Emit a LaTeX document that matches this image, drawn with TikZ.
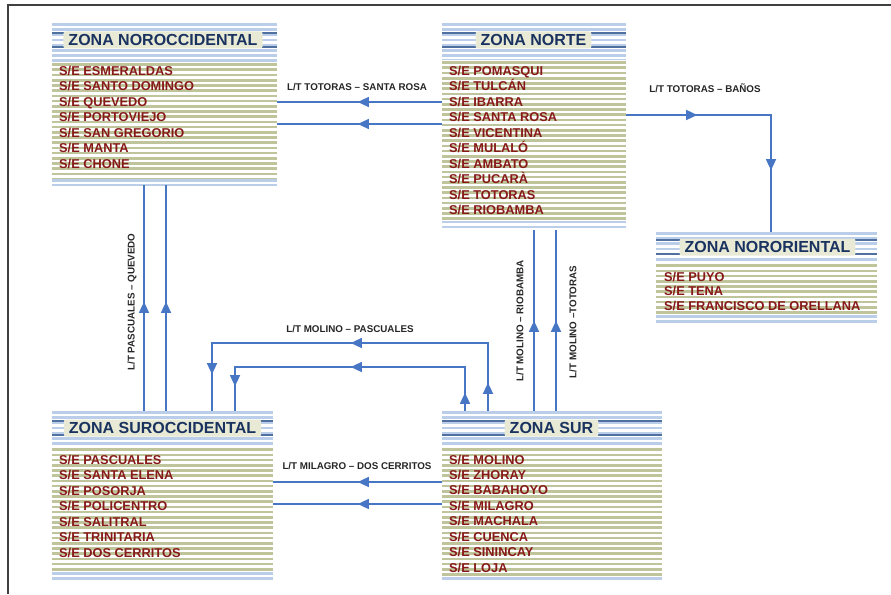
\documentclass[tikz,border=0pt]{standalone}
\usepackage{fontspec}
\setmainfont{Liberation Sans}
\usetikzlibrary{arrows.meta,decorations.markings}
\definecolor{linkblue}{RGB}{70,118,196}
\definecolor{stred}{RGB}{135,25,25}
\definecolor{navy}{RGB}{25,50,95}
\definecolor{khaki}{RGB}{192,196,154}
\definecolor{paleblue}{RGB}{186,205,233}
\definecolor{titlebg}{RGB}{232,234,214}
\definecolor{tlinecol}{RGB}{80,112,160}
\tikzset{
 zonebox/.style={rectangle, draw=none, inner sep=0pt},
 ztitle/.style={fill=titlebg, rounded corners=2pt, text=navy, font=\fontsize{16}{18}\selectfont\bfseries, inner xsep=5pt, inner ysep=0pt, minimum height=17pt},
 station/.style={anchor=base west, inner sep=0pt, text=stred, font=\fontsize{12.8}{15}\selectfont\bfseries},
 conn/.style={draw=linkblue, line width=1.3pt},
 ctip/.tip={Triangle[length=11pt,width=10pt]},
 tipat/.style={postaction={decorate,decoration={markings,mark=at position #1 with {\arrow[linkblue]{ctip}}}}},
 lbl/.style={font=\fontsize{9.8}{11}\selectfont\bfseries, text=black!85, inner sep=1pt},
 tline/.style={draw=tlinecol, line width=1.4pt},
 framestyle/.style={draw=black!75, line width=1.2pt},
}
\newcommand\zonebg[6]{%
 \fill[white] (#1,#2) rectangle (#3,#4);
 \begin{scope}
  \clip (#1,#2) rectangle (#3,#4);
  \foreach \k in {0,...,40} \fill[paleblue] (#1,{#2+\k*5.2}) rectangle (#3,{#2+\k*5.2+2.6});
 \end{scope}
 \fill[white] (#1,#5) rectangle (#3,#6);
 \begin{scope}
  \clip (#1,#5) rectangle (#3,#6);
  \foreach \k in {0,...,40} \fill[khaki] (#1,{#5+\k*5.2+1.3}) rectangle (#3,{#5+\k*5.2+3.9});
 \end{scope}
 \node[zonebox, minimum width={#3-#1}, minimum height={#4-#2}] at ({(#1+#3)/2},{(#2+#4)/2}) {};
}
\newcommand\zonetitle[6]{%
 \draw[tline] (#1,{#3-7}) -- (#2,{#3-7});
 \draw[tline] (#1,{#3+7}) -- (#2,{#3+7});
 \node[ztitle] (#5) at (#4,#3) {#6};
}
\newcommand\stations[5]{%
 \foreach \t [count=\i] in {#5} \node[station] (#1-\i) at (#2,{#3+(\i-1)*#4}) {\t};
}
\begin{document}
\begin{tikzpicture}[x=1pt,y=-1pt]
\useasboundingbox (0,0) rectangle (891,594);
\fill[white] (0,0) rectangle (891,594);
\draw[framestyle] (8,594) -- (8,5) -- (891,5);

% zone boxes
\zonebg{52}{23}{277}{185}{62}{178}
\node[zonebox, minimum width=225, minimum height=162] (noroc) at (164.5,104) {};
\zonetitle{52}{277}{40}{163}{noroc-t}{ZONA NOROCCIDENTAL}
\stations{noroc}{59}{75}{15.5}{S/E ESMERALDAS,S/E SANTO DOMINGO,S/E QUEVEDO,S/E PORTOVIEJO,S/E SAN GREGORIO,S/E MANTA,S/E CHONE}

\zonebg{442}{23}{626}{230}{60}{220}
\node[zonebox, minimum width=184, minimum height=207] (norte) at (534,126.5) {};
\zonetitle{442}{626}{40}{533.5}{norte-t}{ZONA NORTE}
\stations{norte}{449}{75}{15.55}{S/E POMASQUI,S/E TULCÁN,S/E IBARRA,S/E SANTA ROSA,S/E VICENTINA,S/E MULALÓ,S/E AMBATO,S/E PUCARÀ,S/E TOTORAS,S/E RIOBAMBA}

\zonebg{656}{232}{877}{325}{263}{315}
\node[zonebox, minimum width=221, minimum height=93] (nororiental) at (766.5,278.5) {};
\zonetitle{656}{877}{247}{767.5}{nororiental-t}{ZONA NORORIENTAL}
\stations{nororiental}{664}{281}{14.8}{S/E PUYO,S/E TENA,S/E FRANCISCO DE ORELLANA}

\zonebg{52}{411}{273}{582}{447}{572}
\node[zonebox, minimum width=221, minimum height=171] (suroc) at (162.5,496.5) {};
\zonetitle{52}{273}{428}{162.5}{suroc-t}{ZONA SUROCCIDENTAL}
\stations{suroc}{59}{464}{15.5}{S/E PASCUALES,S/E SANTA ELENA,S/E POSORJA,S/E POLICENTRO,S/E SALITRAL,S/E TRINITARIA,S/E DOS CERRITOS}

\zonebg{442}{411}{662}{582}{447}{575}
\node[zonebox, minimum width=220, minimum height=171] (sur) at (552,496.5) {};
\zonetitle{442}{662}{428}{551.5}{sur-t}{ZONA SUR}
\stations{sur}{449}{464}{15.45}{S/E MOLINO,S/E ZHORAY,S/E BABAHOYO,S/E MILAGRO,S/E MACHALA,S/E CUENCA,S/E SININCAY,S/E LOJA}

% connectors
\draw[conn, tipat=84pt] (norte.west |- 0,102) -- (noroc.east |- 0,102);
\draw[conn, tipat=84pt] (norte.west |- 0,124) -- (noroc.east |- 0,124);
\node[lbl] (lbl-tsr) at (357,87) {L/T TOTORAS – SANTA ROSA};

\draw[conn, tipat=71pt, tipat=200pt] (norte.east |- 0,115) -| (nororiental.north -| 771,0);
\node[lbl] (lbl-tb) at (705,88) {L/T TOTORAS – BAÑOS};

\draw[conn, tipat=109pt] (suroc.north -| 144,0) -- (noroc.south -| 144,0);
\draw[conn, tipat=109pt] (suroc.north -| 166,0) -- (noroc.south -| 166,0);
\node[lbl, rotate=90] (lbl-pq) at (132,302) {L/T PASCUALES – QUEVEDO};

\draw[conn, tipat=90pt] (sur.north -| 534,0) -- (norte.south -| 534,0);
\draw[conn, tipat=90pt] (sur.north -| 556,0) -- (norte.south -| 556,0);
\node[lbl, rotate=90] (lbl-mr) at (520,321) {L/T MOLINO – RIOBAMBA};
\node[lbl, rotate=90] (lbl-mt) at (573,322) {L/T MOLINO –TOTORAS};

\draw[conn, tipat=28pt, tipat=205pt, tipat=375pt] (sur.north -| 488,0) |- (212,343) -- (suroc.north -| 212,0);
\draw[conn, tipat=18pt, tipat=158pt, tipat=293pt] (sur.north -| 465,0) |- (235,367) -- (suroc.north -| 235,0);
\node[lbl] (lbl-mp) at (350,329) {L/T MOLINO – PASCUALES};

\draw[conn, tipat=84pt] (sur.west |- 0,482) -- (suroc.east |- 0,482);
\draw[conn, tipat=84pt] (sur.west |- 0,504) -- (suroc.east |- 0,504);
\node[lbl] (lbl-mdc) at (357,466) {L/T MILAGRO – DOS CERRITOS};
\end{tikzpicture}
\end{document}
